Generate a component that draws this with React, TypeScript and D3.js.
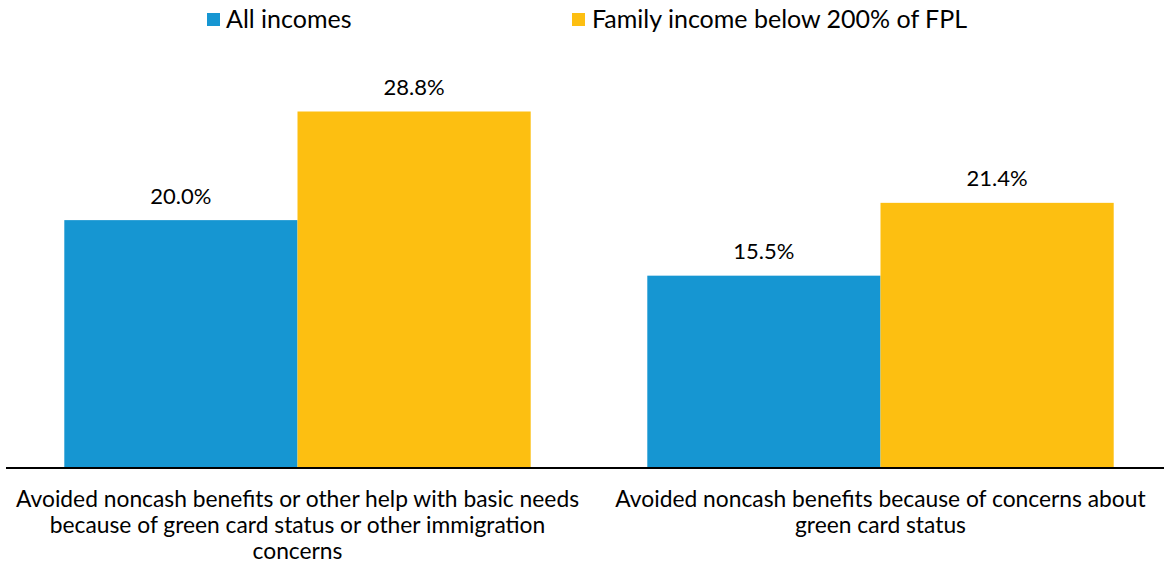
import React from "react";
import * as d3 from "d3";

const categories = [
  ["Avoided noncash benefits or other help with basic needs", "because of green card status or other immigration", "concerns"],
  ["Avoided noncash benefits because of concerns about", "green card status"],
];
const seriesNames = ["All incomes", "Family income below 200% of FPL"];
const allIncomes = [20.0, 15.5];
const below200 = [28.8, 21.4];
const colors = ["#1696d2", "#fdbf11"];

const W = 1164;
const H = 565;
const baseline = 467;

export default function App() {
  const x0 = d3
    .scaleBand<number>()
    .domain(d3.range(categories.length))
    .range([6, 1172])
    .paddingInner(0.2)
    .paddingOuter(0.1);
  const x1 = d3.scaleBand<number>().domain([0, 1]).range([0, x0.bandwidth()]);
  const y = d3.scaleLinear().domain([0, 28.8]).range([baseline, 111.5]);
  const series = [allIncomes, below200];
  const font = "Lato, 'Noto Sans', sans-serif";

  return (
    <svg width={W} height={H} style={{ position: "absolute", left: 0, top: 0, fontFamily: font }}>
      <rect width={W} height={H} fill="#fff" />
      {/* legend */}
      <g>
        <rect x={207} y={13} width={13} height={13} fill={colors[0]} />
        <text x={226} y={28} fontSize={25} fill="#000">{seriesNames[0]}</text>
        <rect x={572} y={13} width={13} height={13} fill={colors[1]} />
        <text x={592} y={28} fontSize={25} fill="#000">{seriesNames[1]}</text>
      </g>
      {categories.map((_, ci) =>
        series.map((s, si) => {
          const bx = (x0(ci) as number) + (x1(si) as number);
          const v = s[ci];
          return (
            <g key={`${ci}-${si}`}>
              <rect x={bx} y={y(v)} width={x1.bandwidth()} height={baseline - y(v)} fill={colors[si]} />
              <text
                x={bx + x1.bandwidth() / 2}
                y={y(v) - 16.5}
                textAnchor="middle"
                fontSize={22}
                fill="#000"
              >
                {v.toFixed(1) + "%"}
              </text>
            </g>
          );
        })
      )}
      <line x1={6} x2={W} y1={468} y2={468} stroke="#000" strokeWidth={2} />
      {categories.map((lines, ci) => (
        <text
          key={ci}
          x={(x0(ci) as number) + x0.bandwidth() / 2}
          y={507}
          textAnchor="middle"
          fontSize={22.8}
          fill="#000"
        >
          {lines.map((l, li) => (
            <tspan key={li} x={(x0(ci) as number) + x0.bandwidth() / 2} dy={li === 0 ? 0 : 26}>
              {l}
            </tspan>
          ))}
        </text>
      ))}
    </svg>
  );
}
